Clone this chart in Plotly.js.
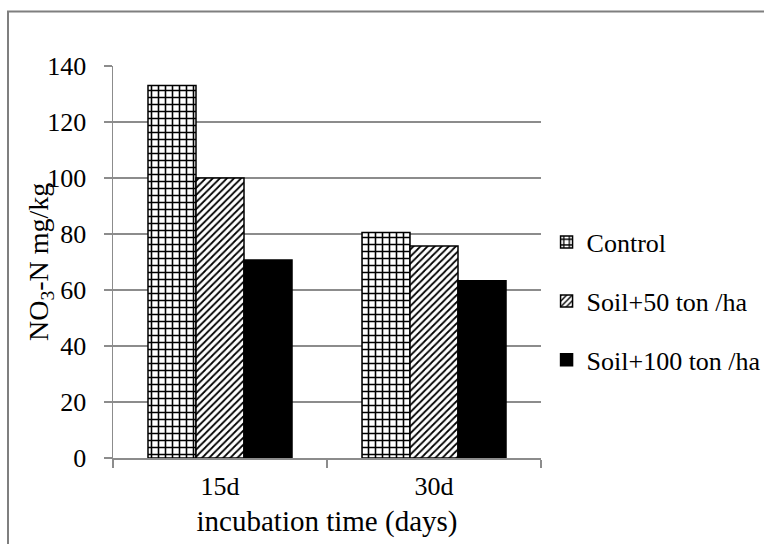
<!DOCTYPE html>
<html>
<head>
<meta charset="utf-8">
<script src="https://cdn.plot.ly/plotly-3.0.1.min.js"></script>
<style>html,body{margin:0;padding:0;background:#fff;}#chart{width:764px;height:544px;}</style>
</head>
<body>
<div id="chart"></div>
<script>
const categories = ["15d", "30d"];
const seriesNames = ["Control", "Soil+50 ton /ha", "Soil+100 ton /ha"];
const controlValues = [133, 80.5];
const soil50Values = [100, 75.7];
const soil100Values = [70.7, 63.3];
const yTickValues = [0, 20, 40, 60, 80, 100, 120, 140];
const yTitle = "NO<sub>3</sub>-N mg/kg";
const xTitle = "incubation time (days)";

const FONT = "Liberation Serif";
const GRID = "#8c8c8c";

const traces = [
  {
    type: "bar", name: seriesNames[0], x: categories, y: controlValues, legendgroup: "a",
    marker: {color: "white", line: {color: "black", width: 1.5},
      pattern: {shape: "+", fgcolor: "black", bgcolor: "white", size: 7, solidity: 0.4, fillmode: "replace"}}
  },
  {
    type: "bar", name: seriesNames[1], x: categories, y: soil50Values, legendgroup: "b",
    marker: {color: "white", line: {color: "black", width: 1.5},
      pattern: {shape: "/", fgcolor: "black", bgcolor: "white", size: 5, solidity: 0.35, fillmode: "replace"}}
  },
  {
    type: "bar", name: seriesNames[2], x: categories, y: soil100Values, legendgroup: "c",
    marker: {color: "black", line: {color: "black", width: 1.5}}
  }
];

const layout = {
  width: 764, height: 544,
  margin: {l: 113, r: 223, t: 66, b: 86, autoexpand: false},
  paper_bgcolor: "white", plot_bgcolor: "white",
  font: {family: FONT, color: "black", size: 25},
  barmode: "group", bargap: 0.327, bargroupgap: 0,
  showlegend: true,
  legend: {x: 1.013, xanchor: "left", y: 0.40, yanchor: "middle",
    font: {family: FONT, size: 26, color: "black"}, tracegroupgap: 22,
    itemwidth: 30, bgcolor: "rgba(0,0,0,0)"},
  xaxis: {
    type: "category", showgrid: false, showline: true, linecolor: GRID, linewidth: 1.5,
    ticks: "outside", tickson: "boundaries", ticklen: 8, tickcolor: GRID, tickwidth: 1.5,
    tickfont: {family: FONT, size: 26}, ticklabelstandoff: 4,
    title: {text: xTitle, font: {family: FONT, size: 29}, standoff: 11}
  },
  yaxis: {
    range: [0, 140], tickvals: yTickValues, showgrid: true, gridcolor: GRID, gridwidth: 1.5,
    showline: true, linecolor: GRID, linewidth: 1.5, zeroline: false,
    ticks: "outside", ticklen: 8, tickcolor: GRID, tickwidth: 1.5,
    tickfont: {family: FONT, size: 26}, ticklabelstandoff: 12
  },
  annotations: [{
    text: yTitle, xref: "paper", yref: "paper", x: (40 - 113) / 428, y: 0.5,
    xanchor: "center", yanchor: "middle", textangle: -90, showarrow: false,
    font: {family: FONT, size: 28, color: "black"}
  }],
  shapes: [{
    type: "rect", xref: "paper", yref: "paper",
    x0: (8 - 113) / 428, x1: (780 - 113) / 428,
    y0: (458 - 560) / 392, y1: (458 - 11.5) / 392,
    line: {color: "#7f7f7f", width: 2}, fillcolor: "rgba(0,0,0,0)", layer: "below"
  }]
};

Plotly.newPlot("chart", traces, layout, {displayModeBar: false, staticPlot: true});
</script>
</body>
</html>
